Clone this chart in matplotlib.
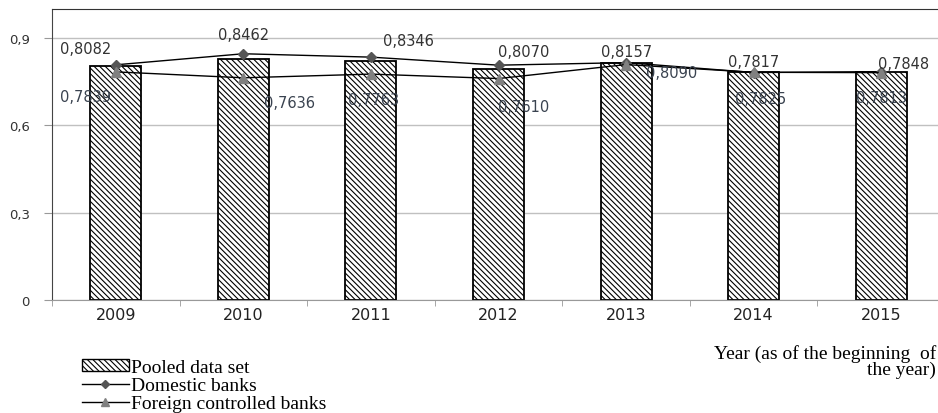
import matplotlib
matplotlib.use("Agg")
import matplotlib.pyplot as plt
from matplotlib.patches import Patch
from matplotlib.lines import Line2D
import numpy as np

years = ["2009", "2010", "2011", "2012", "2013", "2014", "2015"]
pooled = [0.804, 0.828, 0.821, 0.794, 0.814, 0.783, 0.783]
domestic = [0.8082, 0.8462, 0.8346, 0.8070, 0.8157, 0.7817, 0.7848]
foreign = [0.7839, 0.7636, 0.7763, 0.7610, 0.8090, 0.7825, 0.7813]
dom_labels = ["0,8082", "0,8462", "0,8346", "0,8070", "0,8157", "0,7817", "0,7848"]
for_labels = ["0,7839", "0,7636", "0,7763", "0,7610", "0,8090", "0,7825", "0,7813"]
yticks = [0, 0.3, 0.6, 0.9]
ytick_labels = ["0", "0,3", "0,6", "0,9"]

W, H = 938, 414
fig = plt.figure(figsize=(W / 100, H / 100), dpi=100)
ax = fig.add_axes([52 / W, 1 - 301 / H, 893 / W, 291 / H])

HATCH = "\\" * 6
x = np.arange(len(years))
plt.rcParams['hatch.linewidth'] = 0.8
ax.bar(x, pooled, width=0.4, color="white", edgecolor="black", linewidth=1.3,
       hatch=HATCH, zorder=2)
ax.plot(x, domestic, color="black", lw=1.0, marker="D", ms=5,
        mfc="#555555", mec="#555555", zorder=3)
ax.plot(x, foreign, color="black", lw=1.0, marker="^", ms=7,
        mfc="#808080", mec="#808080", zorder=3)

# data labels (offsets in points)
dom_off = [(-22, 12), (0, 14), (27, 12), (18, 10), (0, 8), (0, 8), (16, 6)]
for_off = [(-22, -18), (33, -18), (2, -18), (18, -20), (33, -6), (5, -19), (0, -18)]
for i in range(len(years)):
    ax.annotate(dom_labels[i], (x[i], domestic[i]), xytext=dom_off[i],
                textcoords="offset points", ha="center", va="center",
                fontsize=10.5, color="#333333", zorder=4)
    ax.annotate(for_labels[i], (x[i], foreign[i]), xytext=for_off[i],
                textcoords="offset points", ha="center", va="center",
                fontsize=10.5, color="#3a4350", zorder=4)

ax.set_xlim(-0.5, 6.5)
ax.set_ylim(0, 1.0)
ax.set_yticks(yticks)
ax.set_yticklabels(ytick_labels, fontsize=9.5, color="#333333")
ax.set_xticks(x)
ax.set_xticklabels(years, fontsize=11.5, color="#222222")
ax.set_xticks(np.arange(-0.5, 7, 1), minor=True)
ax.tick_params(axis="x", which="major", length=0, pad=5)
ax.tick_params(axis="x", which="minor", length=4, color="#999999")
ax.tick_params(axis="y", length=6, color="#999999", pad=10)
ax.grid(axis="y", color="#c0c0c0", lw=1.0, zorder=0)
ax.set_axisbelow(True)
ax.spines["left"].set_color("#444444")
ax.spines["top"].set_color("#333333")
ax.spines["bottom"].set_color("#999999")
ax.spines["right"].set_visible(False)

handles = [
    Patch(facecolor="white", edgecolor="black", hatch=HATCH, label="Pooled data set"),
    Line2D([], [], color="black", lw=1.0, marker="D", ms=4, mfc="#555555",
           mec="#555555", label="Domestic banks"),
    Line2D([], [], color="black", lw=1.0, marker="^", ms=6, mfc="#808080",
           mec="#808080", label="Foreign controlled banks"),
]
fig.legend(handles=handles, loc="upper left", bbox_to_anchor=(82 / W, 1 - 360 / H),
           frameon=False, prop={"family": "Liberation Serif", "size": 14},
           handlelength=2.4, handleheight=0.6, handletextpad=0.1, labelspacing=0.05,
           borderpad=0, borderaxespad=0)

fig.text(936 / W, 1 - 362 / H, "Year (as of the beginning  of\nthe year)",
         ha="right", va="center", family="Liberation Serif", fontsize=14,
         multialignment="right", linespacing=0.95)

fig.savefig("out.png", dpi=100)
